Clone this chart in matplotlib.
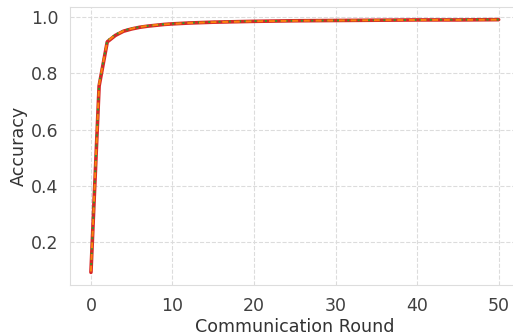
import matplotlib
matplotlib.use("Agg")
import matplotlib.pyplot as plt
import seaborn as sns

sns.set_style("whitegrid", {"grid.linestyle": "--", "grid.color": "#dcdcdc"})
plt.rcParams['font.family'] = ['DejaVu Sans']

rounds = [0, 1, 2, 3, 4, 5, 6, 7, 8, 9, 10, 12, 15, 20, 25, 30, 35, 40, 45, 50]
acc_a = [0.092, 0.755, 0.912, 0.935, 0.950, 0.958, 0.964, 0.968, 0.971, 0.974, 0.976, 0.979, 0.982, 0.985, 0.987, 0.988, 0.989, 0.990, 0.990, 0.991]
acc_b = [0.095, 0.760, 0.914, 0.937, 0.951, 0.959, 0.965, 0.969, 0.972, 0.974, 0.976, 0.979, 0.982, 0.985, 0.987, 0.988, 0.989, 0.990, 0.990, 0.991]
acc_c = [0.100, 0.765, 0.916, 0.938, 0.952, 0.960, 0.965, 0.969, 0.972, 0.975, 0.977, 0.980, 0.983, 0.986, 0.987, 0.988, 0.989, 0.990, 0.991, 0.991]

fig = plt.figure(figsize=(5.13, 3.36), dpi=100)
ax = fig.add_axes([70 / 513, 1 - 285 / 336, (519 - 70) / 513, (285 - 7) / 336])

ax.plot(rounds, acc_a, color="#d62728", linewidth=2.6, linestyle="-")
ax.plot(rounds, acc_c, color="#2ca02c", linewidth=1.4, linestyle=":")
ax.plot(rounds, acc_b, color="#ff7f0e", linewidth=1.4, linestyle=(0, (3, 3)))

ax.set_xlim(-2.57, 52.5)
ax.set_ylim(0.047, 1.036)
ax.set_xticks([0, 10, 20, 30, 40, 50])
ax.set_yticks([0.2, 0.4, 0.6, 0.8, 1.0])
ax.tick_params(labelsize=12.5, colors=".25", pad=5)
ax.set_xlabel("Communication Round", fontsize=12.6, color=".2", labelpad=2)
ax.set_ylabel("Accuracy", fontsize=12.6, color=".2", labelpad=2)
for s in ax.spines.values():
    s.set_color("#dddddd")

fig.savefig("out.png", dpi=100)
